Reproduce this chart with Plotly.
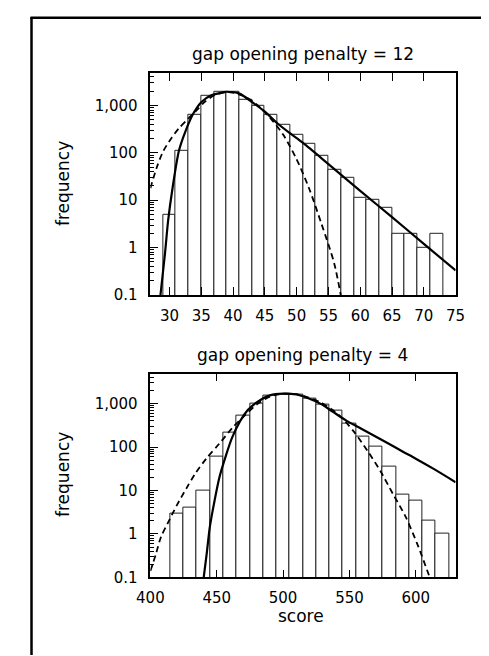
import plotly.graph_objects as go

# ---------------- data ----------------
# top panel: gap opening penalty = 12
top_scores = [30, 32, 34, 36, 38, 40, 42, 44, 46, 48, 50, 52, 54, 56, 58, 60, 62, 64, 66, 68, 70, 72]
top_freq = [5, 110, 650, 1600, 1950, 1900, 1350, 970, 640, 400, 245, 155, 85, 45, 30, 11, 10, 7, 2, 2, 1, 2]

top_solid_x = [28.55, 29.3, 29.8, 30.5, 31.5, 32.5, 33.75, 35.0, 36.5, 38.5, 39.0, 41.0, 43.0, 45.0, 47.0, 49.0, 51.0, 55.0, 60.0, 65.0, 70.0, 75.0]
top_solid_y = [0.09, 0.76, 3.8, 18.6, 112, 282, 676, 1175, 1622, 1905, 1950, 1778, 1175, 741, 417, 257, 162, 58, 15.8, 4.4, 1.2, 0.33]

top_dash_x = [27.0, 28.0, 29.0, 30.3, 31.5, 33.0, 34.3, 35.5, 37.0, 38.7, 40.0, 42.0, 43.9, 45.9, 47.9, 49.9, 51.9, 53.9, 55.9, 57.0]
top_dash_y = [18, 49, 107, 204, 331, 537, 794, 1175, 1622, 1905, 1860, 1514, 1000, 537, 240, 78, 18.6, 3.2, 0.47, 0.09]

# bottom panel: gap opening penalty = 4
bot_scores = [420, 430, 440, 450, 460, 470, 480, 490, 500, 510, 520, 530, 540, 550, 560, 570, 580, 590, 600, 610, 620]
bot_freq = [3, 4, 10, 60, 220, 520, 1000, 1500, 1650, 1600, 1300, 950, 700, 340, 175, 100, 35, 8, 6, 2, 1]

bot_solid_x = [440.0, 442.5, 444.8, 448.4, 452.0, 456.8, 461.5, 467.5, 473.4, 480.6, 490.1, 500, 510, 518.5, 528, 537.6, 547.1, 556.6, 566.2, 580, 590, 600, 613.8, 630]
bot_solid_y = [0.09, 0.36, 1.45, 5.9, 20, 62, 162, 389, 708, 1096, 1549, 1700, 1622, 1349, 1000, 646, 417, 288, 200, 117, 79, 54, 31, 15.5]

bot_dash_x = [400, 404, 408, 414, 420, 427, 434, 442.5, 452, 461.5, 471, 480.6, 490, 500, 510, 518.5, 528, 537.6, 544.7, 554.2, 563.7, 573.3, 582.8, 592.3, 601.9, 611]
bot_dash_y = [0.14, 0.33, 0.85, 2.0, 4.6, 11, 25, 56, 120, 270, 530, 980, 1450, 1680, 1650, 1400, 1070, 700, 457, 209, 81, 28, 8.3, 2.5, 0.51, 0.09]

top_xticks = [30, 35, 40, 45, 50, 55, 60, 65, 70, 75]
bot_xticks = [400, 450, 500, 550, 600]
y_tickvals = [0.1, 1, 10, 100, 1000]
y_ticktext = ["0.1", "1", "10", "100", "1,000"]
y_minor = [m * d for d in (0.1, 1, 10, 100) for m in range(2, 10)] + [2000, 3000, 4000]

titles = ["gap opening penalty = 12", "gap opening penalty = 4"]

# ---------------- figure ----------------
W, H = 489, 656
FONT = "DejaVu Sans"

def px(x):
    return x / W

def py(y):
    return 1 - y / H

fig = go.Figure()

panels = [
    (top_scores, top_freq, 2, top_solid_x, top_solid_y, top_dash_x, top_dash_y, "x", "y"),
    (bot_scores, bot_freq, 10, bot_solid_x, bot_solid_y, bot_dash_x, bot_dash_y, "x2", "y2"),
]
for sc, fr, w, sx, sy, dx, dy, xa, ya in panels:
    fig.add_trace(go.Bar(x=sc, y=fr, width=w, marker=dict(color="white", line=dict(color="#222", width=1)),
                         xaxis=xa, yaxis=ya, showlegend=False))
    fig.add_trace(go.Scatter(x=dx, y=dy, mode="lines", line=dict(color="black", width=1.8, dash="6px,4px", shape="spline", smoothing=0.8),
                             xaxis=xa, yaxis=ya, showlegend=False, cliponaxis=True))
    fig.add_trace(go.Scatter(x=sx, y=sy, mode="lines", line=dict(color="black", width=2.2, shape="spline", smoothing=0.8),
                             xaxis=xa, yaxis=ya, showlegend=False, cliponaxis=True))

xdom = [px(135), px(456)]
common_x = dict(showgrid=False, zeroline=False, showline=True, linecolor="black", linewidth=1.5,
                mirror="ticks", ticks="inside", ticklen=8, tickwidth=1.3, tickcolor="black",
                tickfont=dict(family=FONT, size=15, color="black"), ticklabelstandoff=6)
common_y = dict(type="log", range=[-1, 3.69], showgrid=False, zeroline=False, showline=True, linecolor="black",
                linewidth=1.5, mirror=True, ticks="inside", ticklen=8, tickwidth=1.3, tickcolor="black",
                tickmode="array", tickvals=y_tickvals, ticktext=y_ticktext,
                tickfont=dict(family=FONT, size=15, color="black"), ticklabelstandoff=8,
                minor=dict(ticks="inside", ticklen=4, tickwidth=1, tickcolor="black", tickmode="array", tickvals=y_minor, showgrid=False))

fig.update_layout(
    width=W, height=H, margin=dict(l=0, r=0, t=0, b=0),
    paper_bgcolor="white", plot_bgcolor="white", bargap=0,
    xaxis=dict(domain=xdom, anchor="y", range=[27, 75], tickmode="array", tickvals=top_xticks, **common_x),
    yaxis=dict(domain=[py(291), py(65.7)], anchor="x", **common_y),
    xaxis2=dict(domain=xdom, anchor="y2", range=[400, 630], tickmode="array", tickvals=bot_xticks, **common_x),
    yaxis2=dict(domain=[py(577.3), py(370.7)], anchor="x2", **common_y),
)

ann = []
ann.append(dict(text=titles[0], x=px(295.5), y=py(46.5), xref="paper", yref="paper", showarrow=False,
                font=dict(family=FONT, size=17, color="black"), xanchor="center", yanchor="middle"))
ann.append(dict(text=titles[1], x=px(295.5), y=py(351.5), xref="paper", yref="paper", showarrow=False,
                font=dict(family=FONT, size=17, color="black"), xanchor="center", yanchor="middle"))
for yc in (178.3, 473.3):
    ann.append(dict(text="frequency", x=px(43.3), y=py(yc), xref="paper", yref="paper", showarrow=False, textangle=-90,
                    font=dict(family=FONT, size=17, color="black"), xanchor="center", yanchor="middle"))
ann.append(dict(text="score", x=px(293.3), y=py(616.7), xref="paper", yref="paper", showarrow=False,
                font=dict(family=FONT, size=17, color="black"), xanchor="center", yanchor="middle"))
fig.update_layout(annotations=ann)

# outer frame (left and top edges visible)
fig.add_shape(type="line", xref="paper", yref="paper", x0=px(10), x1=px(10), y0=0, y1=py(9), line=dict(color="black", width=2.5))
fig.add_shape(type="line", xref="paper", yref="paper", x0=px(9), x1=1, y0=py(10), y1=py(10), line=dict(color="black", width=2.5))

fig.write_html("out.html")
